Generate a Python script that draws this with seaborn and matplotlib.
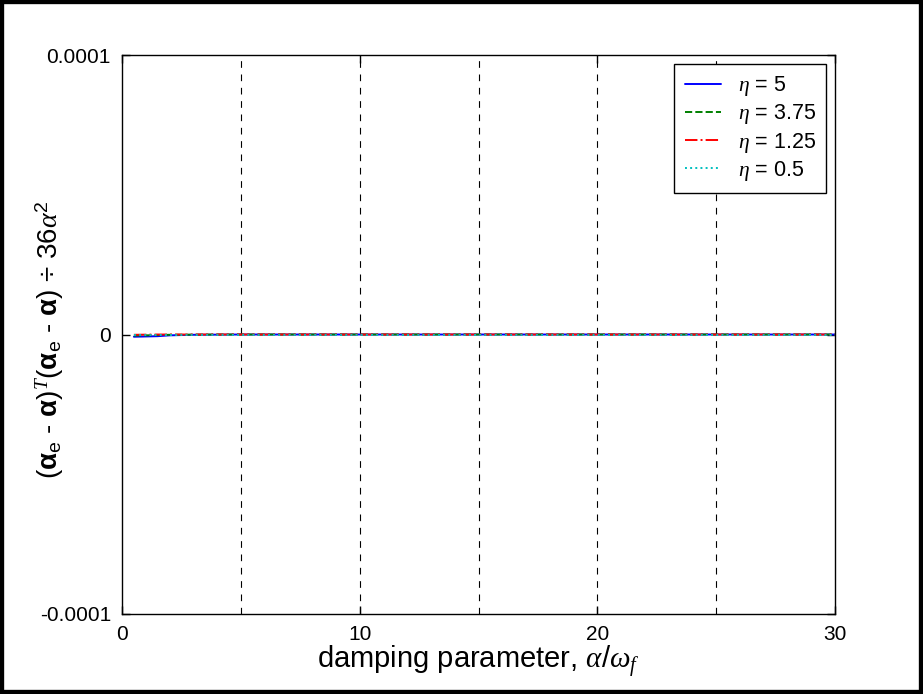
import numpy as np
import pandas as pd
import matplotlib
matplotlib.use("Agg")
import matplotlib.pyplot as plt
import seaborn as sns
from matplotlib.patches import Rectangle

# data
x_vals = [0.5, 1.0, 1.5, 2.0, 3.0, 4.0, 5.0, 7.5, 10.0, 12.5, 15.0, 17.5, 20.0, 22.5, 25.0, 27.5, 30.0]
eta_5 = [-8e-7, -7e-7, -6e-7, -3e-7, -1e-7, -5e-8, 0, 0, 0, 0, 0, 0, 0, 0, 0, 0, 0]
eta_375 = [-4e-7, -3e-7, -2e-7, -1e-7, -5e-8, 0, 0, 0, 0, 0, 0, 0, 0, 0, 0, 0, 0]
eta_125 = [-1e-7, -5e-8, 0, 0, 0, 0, 0, 0, 0, 0, 0, 0, 0, 0, 0, 0, 0]
eta_05 = [0, 0, 0, 0, 0, 0, 0, 0, 0, 0, 0, 0, 0, 0, 0, 0, 0]
series_labels = [r"$\eta$ = 5", r"$\eta$ = 3.75", r"$\eta$ = 1.25", r"$\eta$ = 0.5"]
x_ticks = [0, 10, 20, 30]
y_ticks = [-0.0001, 0, 0.0001]
y_tick_labels = ["-0.0001", "0", "0.0001"]
grid_x = [5, 10, 15, 20, 25]

sns.set_style("white")
plt.rcParams["font.family"] = ["Liberation Sans", "DejaVu Sans"]
plt.rcParams["mathtext.fontset"] = "custom"
plt.rcParams["mathtext.rm"] = "Liberation Sans"
plt.rcParams["mathtext.it"] = "Liberation Serif:italic"
plt.rcParams["mathtext.bf"] = "Liberation Sans:bold"
plt.rcParams["text.color"] = "black"
plt.rcParams["axes.labelcolor"] = "black"

df = pd.concat([
    pd.DataFrame({"x": x_vals, "y": vals, "series": lab})
    for vals, lab in zip([eta_5, eta_375, eta_125, eta_05], series_labels)
])

fig = plt.figure(figsize=(9.23, 6.94), dpi=100)
ax = fig.add_axes([0.1322, 0.1153, 0.7725, 0.8054])

palette = {series_labels[0]: "#0000ff", series_labels[1]: "#008000",
           series_labels[2]: "#ff0000", series_labels[3]: "#00bfbf"}
styles = ["-", "--", "-.", ":"]
for lab, ls in zip(series_labels, styles):
    sub = df[df["series"] == lab]
    sns.lineplot(data=sub, x="x", y="y", ax=ax, color=palette[lab],
                 linestyle=ls, linewidth=1.4, label=lab, estimator=None)

for gx in grid_x:
    ax.axvline(gx, color="black", linestyle=(0, (6, 6)), linewidth=0.8, zorder=0)

ax.set_xlim(0, 30)
ax.set_ylim(-0.0001, 0.0001)
ax.set_xticks(x_ticks)
ax.set_xticklabels([str(t) for t in x_ticks])
ax.set_yticks(y_ticks)
ax.set_yticklabels(y_tick_labels)
ax.tick_params(direction="in", length=6, width=1, labelsize=15, colors="black",
               top=True, right=True, bottom=True, left=True, pad=8)
for sp in ax.spines.values():
    sp.set_visible(True)
    sp.set_color("black")
    sp.set_linewidth(1)

ax.set_xlabel(r"damping parameter, $\alpha/\omega_{\mathit{f}}$", fontsize=21, labelpad=0)
ax.set_ylabel(r"$(\mathbf{\alpha}_{\mathrm{e}}$ - $\mathbf{\alpha})^{\mathit{T}}(\mathbf{\alpha}_{\mathrm{e}}$ - $\mathbf{\alpha})$ $\div$ 36$\alpha^{2}$",
              fontsize=20)
ax.yaxis.set_label_coords(-0.079, 0.49)

leg = ax.legend(loc="upper right", fontsize=15.5, frameon=True, fancybox=False,
                framealpha=1, edgecolor="black", handlelength=1.7,
                handletextpad=0.75, borderaxespad=0.4, labelspacing=0.19,
                borderpad=0.5)
leg.get_frame().set_linewidth(1)
for t in leg.get_texts():
    t.set_color("black")

fig.patches.append(Rectangle((0, 0), 1, 1, transform=fig.transFigure, fill=False,
                             edgecolor="black", linewidth=6, zorder=10))

fig.savefig("out.png", dpi=100, facecolor="white")
